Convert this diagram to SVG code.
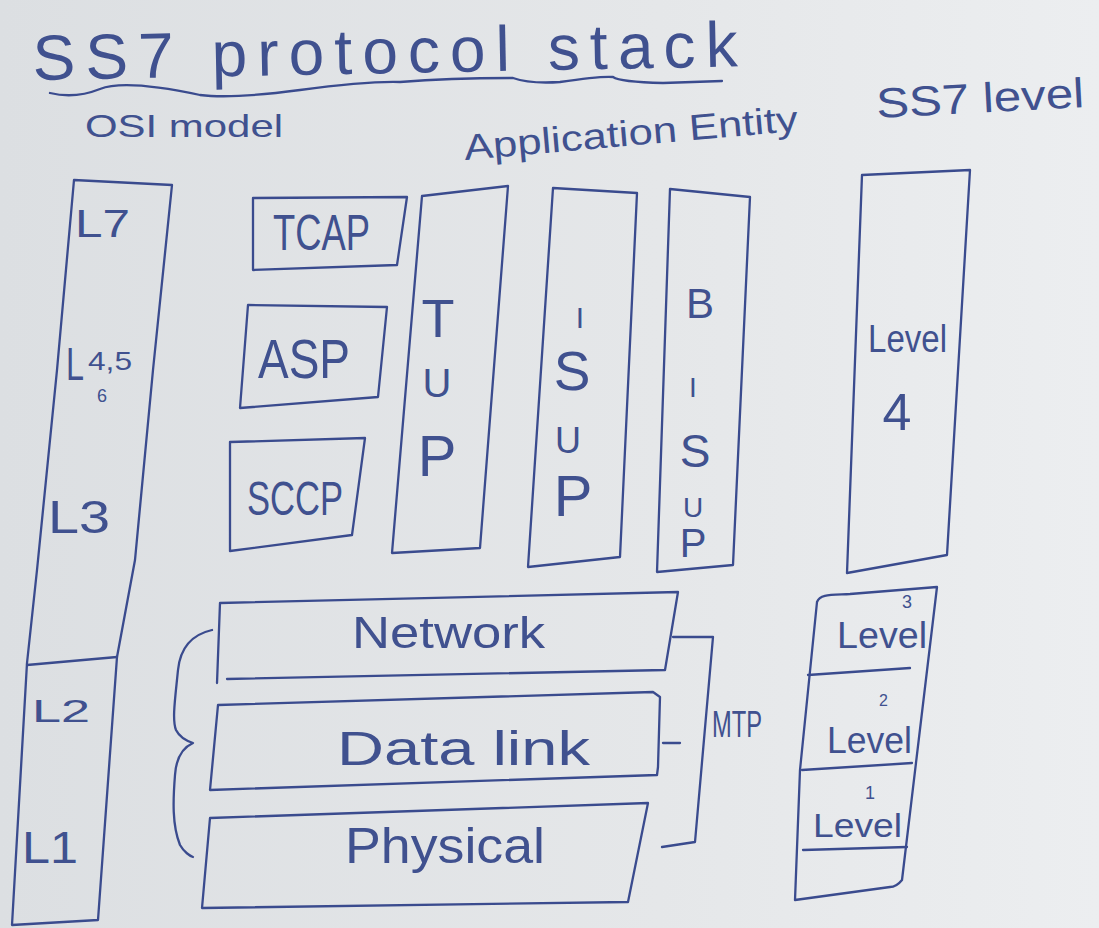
<svg xmlns="http://www.w3.org/2000/svg" width="1099" height="928" viewBox="0 0 1099 928">
<defs>
<linearGradient id="paper" x1="0" y1="0" x2="1" y2="0">
<stop offset="0" stop-color="#dcdfe2"/>
<stop offset="0.6" stop-color="#e5e7e9"/>
<stop offset="1" stop-color="#eceef0"/>
</linearGradient>
<style>
.ink{fill:none;stroke:#3a4b8e;stroke-width:2.3;stroke-linejoin:round;stroke-linecap:round}
.t{font-family:"Liberation Sans","DejaVu Sans",sans-serif;fill:#40518f}
.c{text-anchor:middle}
</style>
</defs>
<rect width="1099" height="928" fill="url(#paper)"/>

<g id="title">
<text class="t" x="33" y="80" font-size="64" textLength="705" lengthAdjust="spacing" transform="rotate(-1.1 33 80)">SS7 protocol stack</text>
<path class="ink" d="M50,93 Q75,99 100,89 T200,95 Q233,99 300,90 T400,82 Q450,78 513,78 Q530,84 560,82 Q600,76 613,77 Q620,82 663,83 L722,81"/>
</g>

<g id="headers">
<text class="t" x="85" y="137" font-size="32" textLength="198" lengthAdjust="spacingAndGlyphs">OSI model</text>
<text class="t" x="465" y="160" font-size="36" textLength="335" lengthAdjust="spacingAndGlyphs" transform="rotate(-5 465 160)">Application Entity</text>
<text class="t" x="877" y="118" font-size="42" textLength="208" lengthAdjust="spacingAndGlyphs" transform="rotate(-3 877 118)">SS7 level</text>
</g>

<g id="osi-model">
<path class="ink" d="M74,180 L172,185 L153,370 L135,560 L117,657 L98,920 L12,925 L27,663 L37,570 L57,370 Z"/>
<path class="ink" d="M27,665 L117,657"/>
<text class="t" x="75" y="237" font-size="38" textLength="55" lengthAdjust="spacingAndGlyphs">L7</text>
<text class="t" x="66" y="380" font-size="46" textLength="18" lengthAdjust="spacingAndGlyphs">L</text>
<text class="t" x="88" y="370" font-size="26" textLength="44" lengthAdjust="spacingAndGlyphs">4,5</text>
<text class="t" x="97" y="402" font-size="18">6</text>
<text class="t" x="48" y="533" font-size="46" textLength="62" lengthAdjust="spacingAndGlyphs">L3</text>
<text class="t" x="32" y="722" font-size="32" textLength="58" lengthAdjust="spacingAndGlyphs">L2</text>
<text class="t" x="22" y="863" font-size="44" textLength="56" lengthAdjust="spacingAndGlyphs">L1</text>
</g>

<g id="tcap">
<path class="ink" d="M253,198 L407,197 L397,265 L253,270 Z"/>
<text class="t" x="273" y="250" font-size="50" textLength="97" lengthAdjust="spacingAndGlyphs">TCAP</text>
</g>

<g id="asp">
<path class="ink" d="M248,305 L387,307 L378,397 L240,408 Z"/>
<text class="t" x="258" y="378" font-size="56" textLength="92" lengthAdjust="spacingAndGlyphs">ASP</text>
</g>

<g id="sccp">
<path class="ink" d="M230,442 L365,438 L352,535 L230,551 Z"/>
<text class="t" x="247" y="515" font-size="48" textLength="96" lengthAdjust="spacingAndGlyphs">SCCP</text>
</g>

<g id="tup">
<path class="ink" d="M422,196 L508,186 L480,548 L392,553 Z"/>
<text class="t c" x="438" y="337" font-size="54">T</text>
<text class="t c" x="437" y="397" font-size="40">U</text>
<text class="t c" x="437" y="476" font-size="58">P</text>
</g>

<g id="isup">
<path class="ink" d="M553,188 L637,193 L620,557 L528,567 Z"/>
<text class="t c" x="580" y="328" font-size="30">I</text>
<text class="t c" x="572" y="390" font-size="55">S</text>
<text class="t c" x="568" y="453" font-size="36">U</text>
<text class="t c" x="573" y="516" font-size="58">P</text>
</g>

<g id="bisup">
<path class="ink" d="M670,189 L750,197 L733,565 L657,572 Z"/>
<text class="t c" x="700" y="318" font-size="42">B</text>
<text class="t c" x="693" y="397" font-size="28">I</text>
<text class="t c" x="695" y="467" font-size="46">S</text>
<text class="t c" x="693" y="517" font-size="28">U</text>
<text class="t c" x="693" y="557" font-size="40">P</text>
</g>

<g id="level4">
<path class="ink" d="M862,175 L970,170 L947,555 L847,573 Z"/>
<text class="t" x="868" y="352" font-size="38" textLength="79" lengthAdjust="spacingAndGlyphs">Level</text>
<text class="t c" x="897" y="430" font-size="52">4</text>
</g>

<g id="network">
<path class="ink" d="M217,683 L220,603 L678,592 L665,670 L227,679"/>
<text class="t" x="352" y="648" font-size="44" textLength="193" lengthAdjust="spacingAndGlyphs">Network</text>
</g>

<g id="datalink">
<path class="ink" d="M218,705 L653,692 L660,697 L658,767 L657,775 L210,790 Z"/>
<text class="t" x="337" y="765" font-size="48" textLength="253" lengthAdjust="spacingAndGlyphs">Data link</text>
</g>

<g id="physical">
<path class="ink" d="M210,818 L648,803 L628,902 L202,908 Z"/>
<text class="t" x="345" y="863" font-size="50" textLength="200" lengthAdjust="spacingAndGlyphs">Physical</text>
</g>

<g id="ss7-levels">
<path class="ink" d="M817,602 C820,594 830,595 850,594 L937,587 L902,880 C898,885 895,887 890,887 L795,900 L800,770 Z"/>
<path class="ink" d="M808,675 L910,668"/>
<path class="ink" d="M802,770 L912,763"/>
<path class="ink" d="M803,850 L907,847"/>
<text class="t" x="837" y="648" font-size="36" textLength="90" lengthAdjust="spacingAndGlyphs">Level</text>
<text class="t" x="902" y="608" font-size="18">3</text>
<text class="t" x="879" y="706" font-size="16">2</text>
<text class="t" x="865" y="799" font-size="18">1</text>
<text class="t" x="827" y="753" font-size="36" textLength="85" lengthAdjust="spacingAndGlyphs">Level</text>
<text class="t" x="813" y="837" font-size="34" textLength="89" lengthAdjust="spacingAndGlyphs">Level</text>
</g>

<g id="connectors">
<path class="ink" d="M212,630 C190,635 180,650 178,670 C175,700 172,720 176,730 C180,738 190,742 193,743 C182,748 176,760 175,775 C173,800 172,825 180,845 C184,852 190,856 193,857"/>
<path class="ink" d="M673,637 L713,637 L695,842 L662,847"/>
<path class="ink" d="M663,743 L680,743"/>
<text class="t" x="712" y="737" font-size="36" textLength="50" lengthAdjust="spacingAndGlyphs">MTP</text>
</g>
</svg>
